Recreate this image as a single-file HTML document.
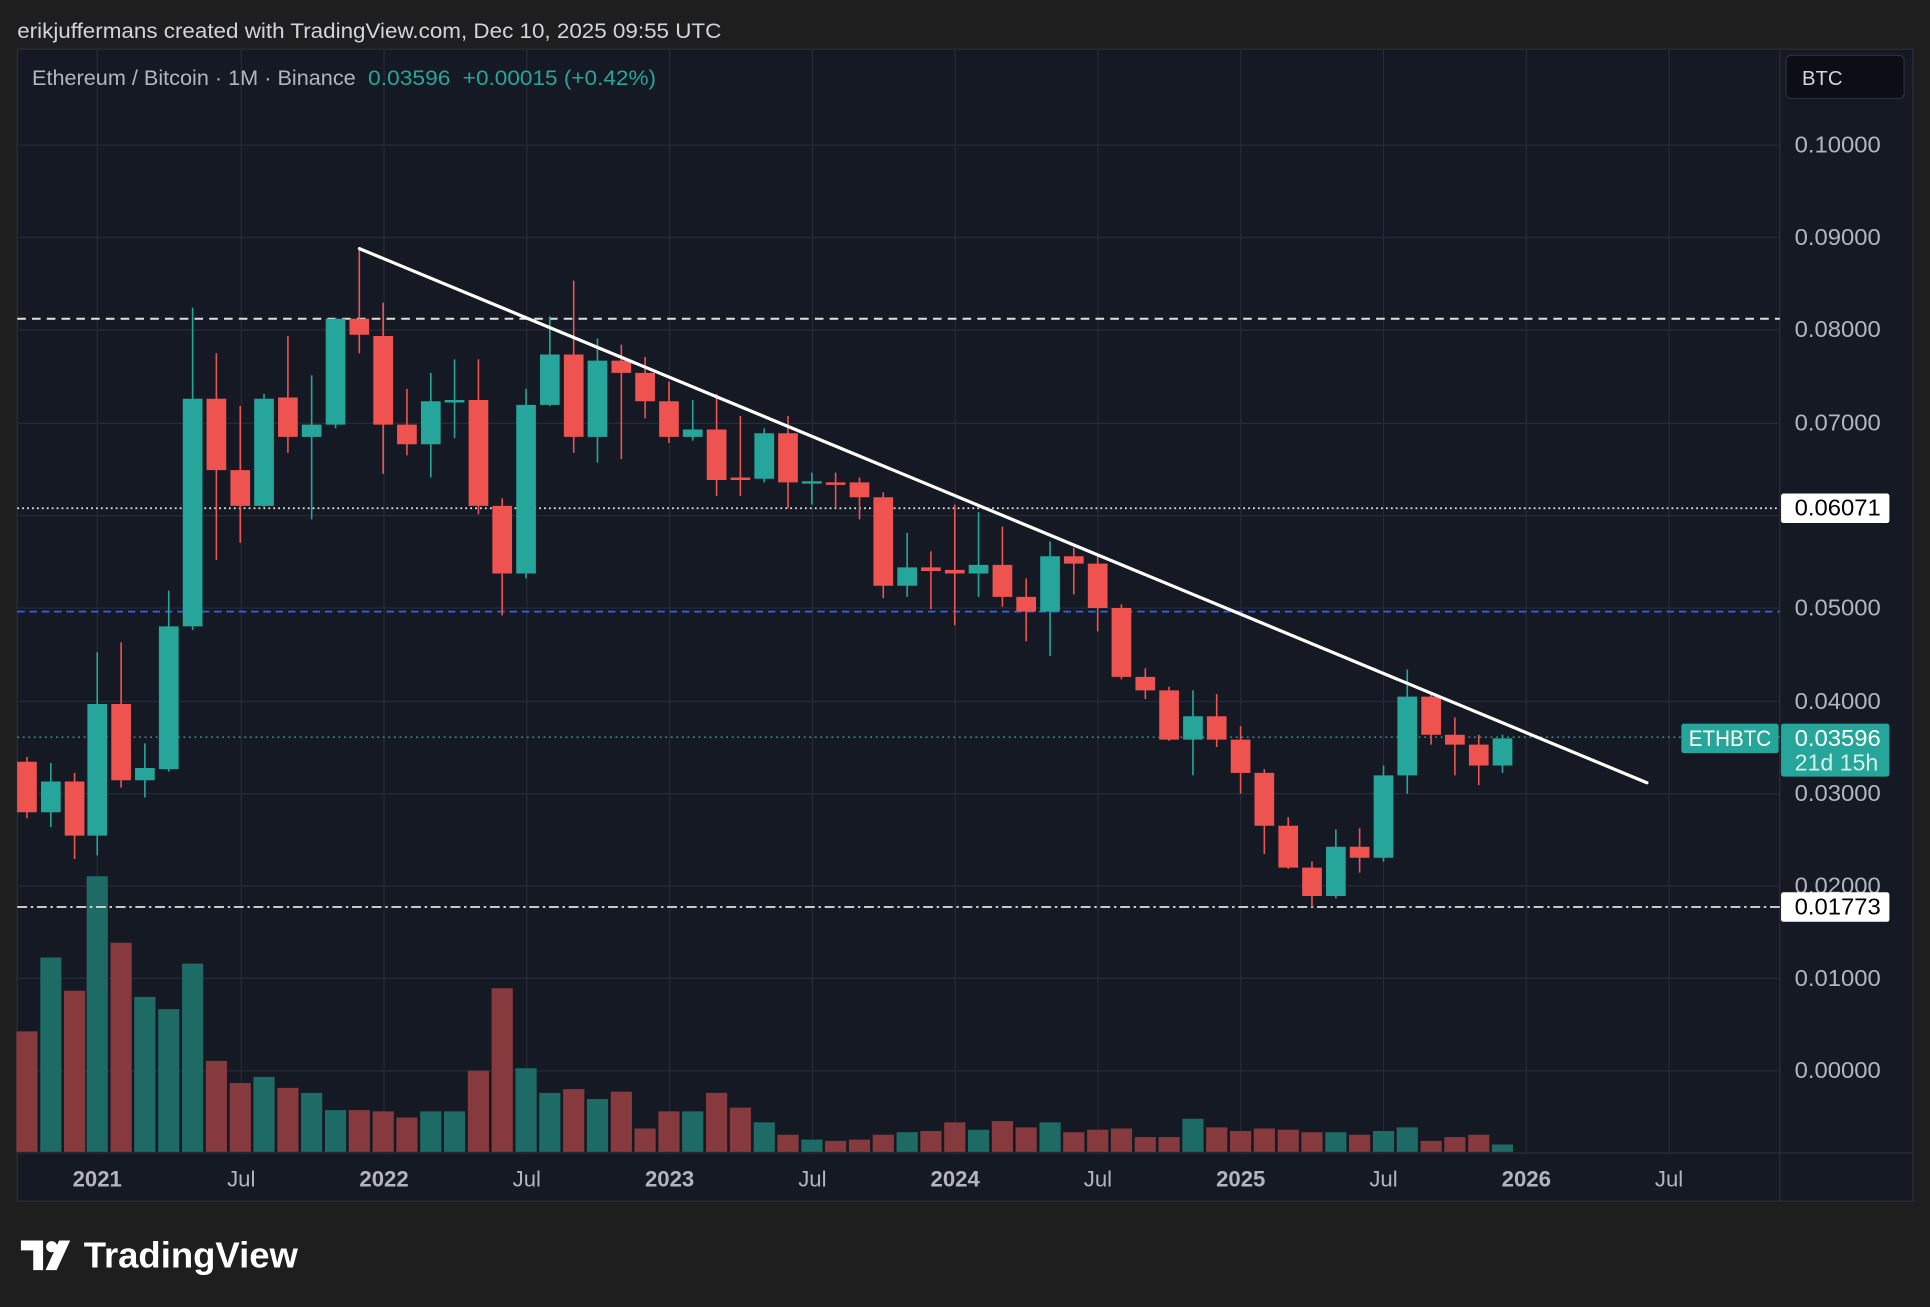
<!DOCTYPE html>
<html><head><meta charset="utf-8">
<style>
html,body{margin:0;padding:0;background:#1e1e1e;}
svg{display:block;}
text{font-family:"Liberation Sans",sans-serif;}
</style></head>
<body>
<svg width="1930" height="1307" viewBox="0 0 1568 1062" preserveAspectRatio="none" xmlns="http://www.w3.org/2000/svg">
<rect x="0" y="0" width="1568" height="1062" fill="#1e1e1e"/>
<text x="14" y="31" font-size="17.5" fill="#d1d4dc" textLength="572" lengthAdjust="spacingAndGlyphs">erikjuffermans created with TradingView.com, Dec 10, 2025 09:55 UTC</text>
<rect x="14" y="40" width="1540" height="936" fill="#151924" stroke="#2a2e39" stroke-width="1"/>
<g stroke="#262a36" stroke-width="1">
<path d="M14 118H1446M14 193H1446M14 268H1446M14 344H1446M14 419H1446M14 494H1446M14 570H1446M14 645H1446M14 720H1446M14 795H1446M14 870H1446"/>
<path d="M79 40V937M196 40V937M312 40V937M428 40V937M544 40V937M660 40V937M776 40V937M892 40V937M1008 40V937M1124 40V937M1240 40V937M1356 40V937"/>
</g>
<line x1="1446" y1="40" x2="1446" y2="976" stroke="#2a2e39"/>
<line x1="14" y1="937" x2="1554" y2="937" stroke="#2a2e39"/>
<path fill="#1e6b66" d="M32.7 778h17.2V936h-17.2zM70.4 712h17.2V936h-17.2zM109.1 810h17.2V936h-17.2zM128.5 820h17.2V936h-17.2zM147.9 783h17.2V936h-17.2zM205.9 875h17.2V936h-17.2zM244.6 888h17.2V936h-17.2zM264 902h17.2V936h-17.2zM341.4 903h17.2V936h-17.2zM360.7 903h17.2V936h-17.2zM418.8 868h17.2V936h-17.2zM438.1 888h17.2V936h-17.2zM476.8 893h17.2V936h-17.2zM554.2 903h17.2V936h-17.2zM612.3 912h17.2V936h-17.2zM651 926h17.2V936h-17.2zM728.4 920h17.2V936h-17.2zM786.4 918h17.2V936h-17.2zM844.5 912h17.2V936h-17.2zM960.6 909h17.2V936h-17.2zM1076.7 920h17.2V936h-17.2zM1115.4 919h17.2V936h-17.2zM1134.7 916h17.2V936h-17.2zM1212.1 930h17.2V936h-17.2z"/>
<path fill="#873a3e" d="M13.3 838h17.2V936h-17.2zM52 805h17.2V936h-17.2zM89.8 766h17.2V936h-17.2zM167.2 862h17.2V936h-17.2zM186.6 880h17.2V936h-17.2zM225.3 884h17.2V936h-17.2zM283.3 902h17.2V936h-17.2zM302.7 903h17.2V936h-17.2zM322 908h17.2V936h-17.2zM380.1 870h17.2V936h-17.2zM399.4 803h17.2V936h-17.2zM457.5 885h17.2V936h-17.2zM496.2 887h17.2V936h-17.2zM515.5 917h17.2V936h-17.2zM534.9 903h17.2V936h-17.2zM573.6 888h17.2V936h-17.2zM592.9 900h17.2V936h-17.2zM631.6 922h17.2V936h-17.2zM670.3 927h17.2V936h-17.2zM689.7 926h17.2V936h-17.2zM709 922h17.2V936h-17.2zM747.7 919h17.2V936h-17.2zM767.1 912h17.2V936h-17.2zM805.8 911h17.2V936h-17.2zM825.1 916h17.2V936h-17.2zM863.8 920h17.2V936h-17.2zM883.2 918h17.2V936h-17.2zM902.5 917h17.2V936h-17.2zM921.9 924h17.2V936h-17.2zM941.2 924h17.2V936h-17.2zM979.9 916h17.2V936h-17.2zM999.3 919h17.2V936h-17.2zM1018.6 917h17.2V936h-17.2zM1038 918h17.2V936h-17.2zM1057.3 920h17.2V936h-17.2zM1096 922h17.2V936h-17.2zM1154.1 927h17.2V936h-17.2zM1173.4 924h17.2V936h-17.2zM1192.8 922h17.2V936h-17.2z"/>
<line x1="14" y1="259" x2="1446" y2="259" stroke="#e0e0e0" stroke-width="1.6" stroke-dasharray="7,5"/>
<line x1="14" y1="413" x2="1446" y2="413" stroke="#e0e0e0" stroke-width="1.4" stroke-dasharray="1.5,2.5"/>
<line x1="14" y1="497" x2="1446" y2="497" stroke="#2962ff" stroke-width="1.4" stroke-dasharray="6,4"/>
<line x1="14" y1="737" x2="1446" y2="737" stroke="#e0e0e0" stroke-width="1.4" stroke-dasharray="8,3,2,3"/>
<line x1="14" y1="599" x2="1446" y2="599" stroke="#26a69a" stroke-width="1.2" stroke-dasharray="1.5,3"/>
<path stroke="#26a69a" stroke-width="1.3" fill="none" d="M41.3 620V672M79 530V695M117.7 604V648M137.1 480V627M156.5 250V512M214.5 320V412M253.2 305V422M272.6 258V348M350 303V388M369.3 292V356M427.4 316V470M446.7 257V330M485.4 275V376M562.8 325V358M620.9 348V392M659.6 384V410M737 433V485M795 416V485M853.1 440V533M969.2 561V630M1085.3 674V730M1124 622V700M1143.3 544V645M1220.7 597V628"/>
<path fill="#26a69a" d="M33.3 635h16v25h-16zM71 572h16v107h-16zM109.7 624h16v10h-16zM129.1 509h16v116h-16zM148.5 324h16v185h-16zM206.5 324h16v87h-16zM245.2 345h16v10h-16zM264.6 259h16v86h-16zM342 326h16v35h-16zM361.3 325h16v2h-16zM419.4 329h16v137h-16zM438.7 288h16v41h-16zM477.4 293h16v62h-16zM554.8 349h16v6h-16zM612.9 352h16v37h-16zM651.6 391h16v2h-16zM729 461h16v15h-16zM787 459h16v7h-16zM845.1 452h16v45h-16zM961.2 582h16v19h-16zM1077.3 688h16v40h-16zM1116 630h16v67h-16zM1135.3 566h16v64h-16zM1212.7 600h16v22h-16z"/>
<path stroke="#ef5350" stroke-width="1.3" fill="none" d="M21.9 615V665M60.6 628V698M98.4 522V640M175.8 287V455M195.2 330V441M233.9 273V368M291.9 203V287M311.3 246V385M330.6 316V370M388.7 292V418M408 405V500M466.1 228V368M504.8 280V373M524.1 290V340M543.5 310V360M582.2 320V403M601.5 338V403M640.2 338V413M678.9 384V412M698.3 388V422M717.6 400V486M756.3 448V495M775.7 410V508M814.4 428V493M833.7 470V521M872.4 445V483M891.8 452V513M911.1 491V552M930.5 543V568M949.8 558V602M988.5 564V607M1007.9 590V645M1027.2 625V694M1046.6 664V706M1065.9 700V737M1104.6 673V709M1162.7 562V605M1182 583V630M1201.4 597V638"/>
<path fill="#ef5350" d="M13.9 619h16v41h-16zM52.6 635h16v44h-16zM90.4 572h16v62h-16zM167.8 324h16v58h-16zM187.2 382h16v29h-16zM225.9 323h16v32h-16zM283.9 259h16v13h-16zM303.3 273h16v72h-16zM322.6 345h16v16h-16zM380.7 325h16v86h-16zM400 411h16v55h-16zM458.1 288h16v67h-16zM496.8 293h16v10h-16zM516.1 303h16v23h-16zM535.5 326h16v29h-16zM574.2 349h16v41h-16zM593.5 388h16v2h-16zM632.2 352h16v40h-16zM670.9 392h16v2h-16zM690.3 392h16v12h-16zM709.6 404h16v72h-16zM748.3 461h16v3h-16zM767.7 463h16v3h-16zM806.4 459h16v26h-16zM825.7 485h16v12h-16zM864.4 452h16v6h-16zM883.8 458h16v36h-16zM903.1 494h16v56h-16zM922.5 550h16v11h-16zM941.8 561h16v40h-16zM980.5 582h16v19h-16zM999.9 601h16v27h-16zM1019.2 628h16v43h-16zM1038.6 671h16v34h-16zM1057.9 705h16v23h-16zM1096.6 688h16v9h-16zM1154.7 566h16v31h-16zM1174 597h16v8h-16zM1193.4 605h16v17h-16z"/>
<line x1="292" y1="202" x2="1338" y2="636" stroke="#ffffff" stroke-width="2.6" stroke-linecap="round"/>
<text x="26" y="69" font-size="17.5" fill="#b2b5be" textLength="263" lengthAdjust="spacingAndGlyphs">Ethereum / Bitcoin · 1M · Binance</text>
<text x="299" y="69" font-size="17.5" fill="#26a69a" textLength="67" lengthAdjust="spacingAndGlyphs">0.03596</text>
<text x="376" y="69" font-size="17.5" fill="#26a69a" textLength="157" lengthAdjust="spacingAndGlyphs">+0.00015 (+0.42%)</text>
<rect x="1451" y="45" width="96" height="35" rx="4" fill="#0c0e15" stroke="#2a2e39"/>
<text x="1464" y="69" font-size="16.5" fill="#d1d4dc">BTC</text>
<g font-size="18.5" fill="#b2b5be">
<text x="1458" y="124" textLength="70" lengthAdjust="spacingAndGlyphs">0.10000</text>
<text x="1458" y="199" textLength="70" lengthAdjust="spacingAndGlyphs">0.09000</text>
<text x="1458" y="274" textLength="70" lengthAdjust="spacingAndGlyphs">0.08000</text>
<text x="1458" y="350" textLength="70" lengthAdjust="spacingAndGlyphs">0.07000</text>
<text x="1458" y="500" textLength="70" lengthAdjust="spacingAndGlyphs">0.05000</text>
<text x="1458" y="576" textLength="70" lengthAdjust="spacingAndGlyphs">0.04000</text>
<text x="1458" y="651" textLength="70" lengthAdjust="spacingAndGlyphs">0.03000</text>
<text x="1458" y="726" textLength="70" lengthAdjust="spacingAndGlyphs">0.02000</text>
<text x="1458" y="801" textLength="70" lengthAdjust="spacingAndGlyphs">0.01000</text>
<text x="1458" y="876" textLength="70" lengthAdjust="spacingAndGlyphs">0.00000</text>
</g>
<rect x="1447" y="401" width="88" height="24" rx="2" fill="#ffffff"/>
<text x="1458" y="419" font-size="18.5" fill="#000" textLength="70" lengthAdjust="spacingAndGlyphs">0.06071</text>
<rect x="1447" y="725" width="88" height="24" rx="2" fill="#ffffff"/>
<text x="1458" y="743" font-size="18.5" fill="#000" textLength="70" lengthAdjust="spacingAndGlyphs">0.01773</text>
<rect x="1366" y="588" width="79" height="24" rx="2" fill="#26a69a"/>
<text x="1372" y="606" font-size="18" fill="#fff" textLength="67" lengthAdjust="spacingAndGlyphs">ETHBTC</text>
<rect x="1447" y="588" width="88" height="43" rx="2" fill="#26a69a"/>
<text x="1458" y="606" font-size="18.5" fill="#fff" textLength="70" lengthAdjust="spacingAndGlyphs">0.03596</text>
<text x="1458" y="626" font-size="18.5" fill="#d8f0ec" textLength="68" lengthAdjust="spacingAndGlyphs">21d 15h</text>
<g font-size="18" fill="#b2b5be" text-anchor="middle">
<text x="79" y="964" font-weight="bold">2021</text>
<text x="196" y="964">Jul</text>
<text x="312" y="964" font-weight="bold">2022</text>
<text x="428" y="964">Jul</text>
<text x="544" y="964" font-weight="bold">2023</text>
<text x="660" y="964">Jul</text>
<text x="776" y="964" font-weight="bold">2024</text>
<text x="892" y="964">Jul</text>
<text x="1008" y="964" font-weight="bold">2025</text>
<text x="1124" y="964">Jul</text>
<text x="1240" y="964" font-weight="bold">2026</text>
<text x="1356" y="964">Jul</text>
</g>
<g fill="#ffffff">
<path d="M17 1008 h18 v24 h-8 v-16 h-10 z"/>
<circle cx="42" cy="1013" r="4.5"/>
<path d="M48 1008 h9 l-11 24 h-9 z"/>
</g>
<text x="68" y="1030" font-size="29" font-weight="bold" fill="#ffffff" textLength="174" lengthAdjust="spacingAndGlyphs">TradingView</text>
</svg>
</body></html>
